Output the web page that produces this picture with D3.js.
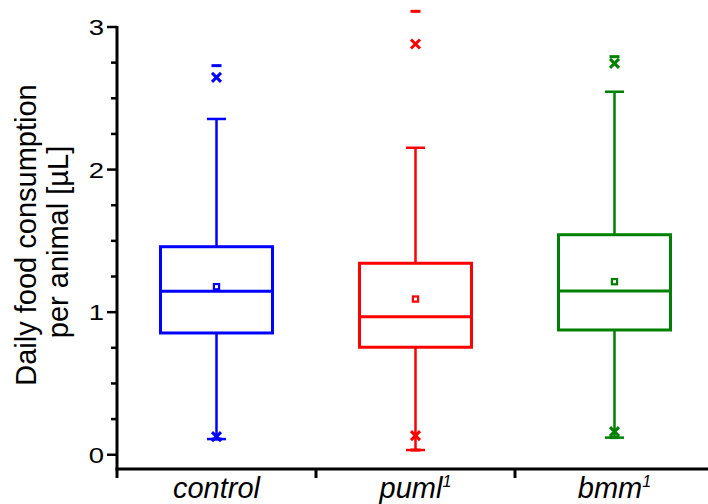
<!DOCTYPE html>
<html>
<head>
<meta charset="utf-8">
<script src="https://cdn.jsdelivr.net/npm/d3@7"></script>
<style>
  html, body { margin: 0; padding: 0; background: #fff; }
  svg { display: block; font-family: "Liberation Sans", Arial, sans-serif; }
</style>
</head>
<body>
<svg id="chart" width="708" height="504"></svg>
<script>
// Groups and their box-plot statistics (daily food consumption, µL)
const categories   = ["control", "puml", "bmm"];
const superscripts = ["", "1", "1"];
const colors       = ["#0000FF", "#FF0000", "#008000"];

const whiskerLow  = [0.110, 0.033, 0.120];
const q1          = [0.854, 0.754, 0.875];
const median      = [1.146, 0.968, 1.148];
const mean        = [1.179, 1.092, 1.214];
const q3          = [1.459, 1.343, 1.543];
const whiskerHigh = [2.355, 2.153, 2.546];
const pct1        = [0.127, 0.134, 0.162];
const pct99       = [2.647, 2.881, 2.745];
const minVal      = [0.110, 0.033, 0.120];
const maxVal      = [2.729, 3.110, 2.792];

const yMajorTicks = [0, 1, 2, 3];
const yMinorTicks = [0.25, 0.5, 0.75, 1.25, 1.5, 1.75, 2.25, 2.5, 2.75];

const groups = categories.map((c, i) => ({
  name: c, sup: superscripts[i], color: colors[i],
  lo: whiskerLow[i], q1: q1[i], med: median[i], mean: mean[i],
  q3: q3[i], hi: whiskerHigh[i], p1: pct1[i], p99: pct99[i],
  min: minVal[i], max: maxVal[i]
}));

const svg = d3.select("#chart");

const plotLeft = 117, plotRight = 714, plotTop = 27, plotBottom = 469;

const x = d3.scaleBand().domain(categories).range([plotLeft, plotRight]).padding(0);
const y = d3.scaleLinear().domain([-0.1, 3]).range([plotBottom, plotTop]);

const boxHalf = 56, capHalf = 9.5, dashHalf = 5, crossHalf = 4.5, meanHalf = 2.6;

// Box plots
const g = svg.append("g").selectAll("g").data(groups).join("g")
  .attr("stroke", d => d.color).attr("fill", "none");

const cx = d => x(d.name) + x.bandwidth() / 2;

// whiskers
g.append("line").attr("x1", cx).attr("x2", cx)
  .attr("y1", d => y(d.q3)).attr("y2", d => y(d.hi)).attr("stroke-width", 2.5);
g.append("line").attr("x1", cx).attr("x2", cx)
  .attr("y1", d => y(d.q1)).attr("y2", d => y(d.lo)).attr("stroke-width", 2.5);
// whisker caps
g.append("line").attr("x1", d => cx(d) - capHalf).attr("x2", d => cx(d) + capHalf)
  .attr("y1", d => y(d.hi)).attr("y2", d => y(d.hi)).attr("stroke-width", 2.5);
g.append("line").attr("x1", d => cx(d) - capHalf).attr("x2", d => cx(d) + capHalf)
  .attr("y1", d => y(d.lo)).attr("y2", d => y(d.lo)).attr("stroke-width", 2.5);
// box
g.append("rect")
  .attr("x", d => cx(d) - boxHalf).attr("width", boxHalf * 2)
  .attr("y", d => y(d.q3)).attr("height", d => y(d.q1) - y(d.q3))
  .attr("stroke-width", 3).attr("fill", "#fff");
// median
g.append("line").attr("x1", d => cx(d) - boxHalf).attr("x2", d => cx(d) + boxHalf)
  .attr("y1", d => y(d.med)).attr("y2", d => y(d.med)).attr("stroke-width", 3);
// mean (hollow square)
g.append("rect")
  .attr("x", d => cx(d) - meanHalf).attr("y", d => y(d.mean) - meanHalf)
  .attr("width", meanHalf * 2).attr("height", meanHalf * 2)
  .attr("stroke-width", 2.2).attr("fill", "#fff");
// 1% / 99% crosses
const cross = (sel, key) => sel.append("path")
  .attr("d", d => {
    const px = cx(d), py = y(d[key]);
    return `M${px - crossHalf},${py - crossHalf}L${px + crossHalf},${py + crossHalf}` +
           `M${px - crossHalf},${py + crossHalf}L${px + crossHalf},${py - crossHalf}`;
  })
  .attr("stroke-width", 3);
cross(g, "p1");
cross(g, "p99");
// min / max dashes
const dash = (sel, key) => sel.append("line")
  .attr("x1", d => cx(d) - dashHalf).attr("x2", d => cx(d) + dashHalf)
  .attr("y1", d => y(d[key])).attr("y2", d => y(d[key])).attr("stroke-width", 3);
dash(g, "min");
dash(g, "max");

// Y axis
const yAxis = svg.append("g").attr("stroke", "#000");
yAxis.append("line").attr("x1", plotLeft).attr("x2", plotLeft)
  .attr("y1", plotTop - 1).attr("y2", plotBottom).attr("stroke-width", 3);
yAxis.selectAll(".maj").data(yMajorTicks).join("line")
  .attr("x1", plotLeft - 10).attr("x2", plotLeft)
  .attr("y1", d => y(d)).attr("y2", d => y(d)).attr("stroke-width", 2.5);
yAxis.selectAll(".min").data(yMinorTicks).join("line")
  .attr("x1", plotLeft - 6).attr("x2", plotLeft)
  .attr("y1", d => y(d)).attr("y2", d => y(d)).attr("stroke-width", 2.5);
svg.append("g").selectAll("text").data(yMajorTicks).join("text")
  .attr("transform", d => `translate(${plotLeft - 13},${y(d)}) scale(1.25,1)`)
  .attr("dy", "0.36em")
  .attr("text-anchor", "end").attr("font-size", 22).attr("fill", "#000")
  .text(d => d);

// X axis
const xAxis = svg.append("g").attr("stroke", "#000");
xAxis.append("line").attr("x1", plotLeft - 1.5).attr("x2", 708)
  .attr("y1", plotBottom).attr("y2", plotBottom).attr("stroke-width", 3);
const bounds = categories.map(c => x(c));
xAxis.selectAll(".xt").data(bounds).join("line")
  .attr("x1", d => d).attr("x2", d => d)
  .attr("y1", plotBottom).attr("y2", plotBottom + 9).attr("stroke-width", 3);

const labels = svg.append("g").selectAll("text").data(groups).join("text")
  .attr("x", cx).attr("y", 498).attr("text-anchor", "middle")
  .attr("font-size", 29).attr("font-style", "italic").attr("fill", "#000");
labels.append("tspan").text(d => d.name);
labels.append("tspan").attr("dy", -11).attr("font-size", 16).text(d => d.sup);

// Y title (two centred lines, rotated)
const titleLines = ["Daily food consumption", "per animal [µL]"];
const titleCentres = [235, 242];
const titleBaselines = [36, 68];
svg.append("g").selectAll("text").data(titleLines).join("text")
  .attr("transform", (d, i) => `translate(${titleBaselines[i]},${titleCentres[i]}) rotate(-90)`)
  .attr("text-anchor", "middle").attr("font-size", 29).attr("fill", "#000")
  .text(d => d);
</script>
</body>
</html>
